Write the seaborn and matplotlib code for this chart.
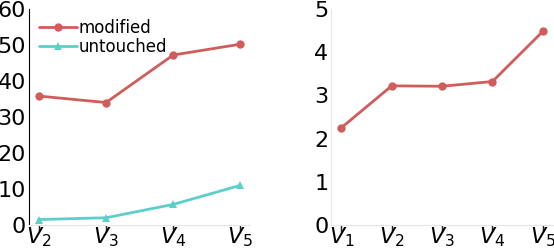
import matplotlib
matplotlib.use("Agg")
import matplotlib.pyplot as plt
import seaborn as sns
import pandas as pd

left_labels = ["$V_2$", "$V_3$", "$V_4$", "$V_5$"]
modified = [35.8, 34.0, 47.2, 50.2]
untouched = [1.5, 2.0, 5.7, 11.0]
left_yticks = [0, 10, 20, 30, 40, 50, 60]

right_labels = ["$V_1$", "$V_2$", "$V_3$", "$V_4$", "$V_5$"]
right_vals = [2.25, 3.22, 3.21, 3.32, 4.48]
right_yticks = [0, 1, 2, 3, 4, 5]

red = "#d05c5c"
cyan = "#5ccfca"
grey = "#e6e6e6"

sns.set_style("white")
plt.rcParams["font.family"] = ["DejaVu Sans"]

fig = plt.figure(figsize=(5.54, 2.48), dpi=100)
ax1 = fig.add_axes([0.052, 0.093, 0.40, 0.871])
ax2 = fig.add_axes([0.598, 0.093, 0.40, 0.871])

left = pd.DataFrame({"x": range(4), "modified": modified, "untouched": untouched})
sns.lineplot(data=left, x="x", y="modified", ax=ax1, color=red, marker="o",
             markersize=6, markeredgewidth=0, linewidth=2, label="modified")
sns.lineplot(data=left, x="x", y="untouched", ax=ax1, color=cyan, marker="^",
             markersize=6, markeredgewidth=0, linewidth=2, label="untouched")
ax1.set_ylim(0, 60)
ax1.set_yticks(left_yticks)
ax1.set_xticks(range(4))
ax1.set_xticklabels(left_labels)
ax1.legend(loc="upper left", frameon=False, fontsize=12, handlelength=2.3,
           handletextpad=0.1, borderaxespad=0.2, labelspacing=0.05,
           bbox_to_anchor=(0.0, 1.0), labelcolor="black")

right = pd.DataFrame({"x": range(5), "v": right_vals})
sns.lineplot(data=right, x="x", y="v", ax=ax2, color=red, marker="o",
             markersize=6, markeredgewidth=0, linewidth=2)
ax2.set_ylim(0, 5)
ax2.set_yticks(right_yticks)
ax2.set_xticks(range(5))
ax2.set_xticklabels(right_labels)

for ax in (ax1, ax2):
    sns.despine(ax=ax)
    ax.set_xlabel("")
    ax.set_ylabel("")
    ax.spines["bottom"].set_color(grey)
    ax.spines["left"].set_color(grey)
    ax.tick_params(axis="both", labelsize=16, width=1, color="#222222",
                   labelcolor="black", bottom=True, left=True)
    ax.tick_params(axis="x", pad=-5, length=5)
    ax.tick_params(axis="y", pad=2, length=0)
ax1.spines["left"].set_color("black")

fig.savefig("out.png", dpi=100)
